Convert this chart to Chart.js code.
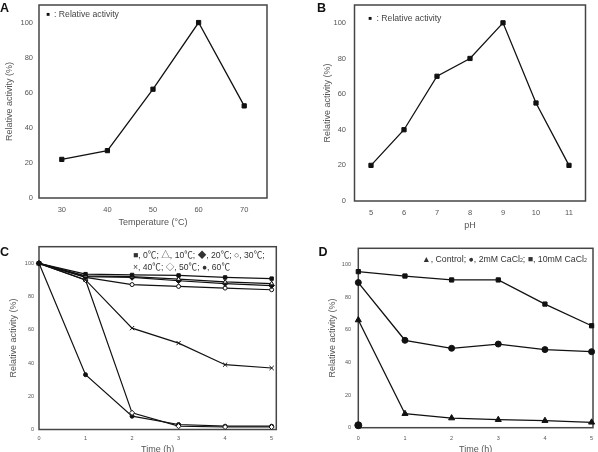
<!DOCTYPE html>
<html><head><meta charset="utf-8">
<script src="https://cdn.jsdelivr.net/npm/chart.js@4.4.0/dist/chart.umd.min.js"></script>
<style>
html,body{margin:0;padding:0;background:#fff;}
#wrap{position:relative;width:598px;height:452px;overflow:hidden;background:#fff;}
canvas{position:absolute;left:0;top:0;}
.t{position:absolute;white-space:nowrap;font-family:"Liberation Sans",Arial,"Noto Sans CJK SC",sans-serif;color:#444;line-height:12px;}
.p{font-weight:bold;font-size:12.5px;color:#111;line-height:14px;}
.cj{font-family:"Liberation Sans","Noto Sans CJK SC",sans-serif;color:#333;}
</style></head><body>
<div id="wrap">
<canvas id="cA" width="598" height="452"></canvas>
<canvas id="cB" width="598" height="452"></canvas>
<canvas id="cC" width="598" height="452"></canvas>
<canvas id="cD" width="598" height="452"></canvas>
<div class="t p" style="left:0px;top:0.5px">A</div>
<div class="t p" style="left:317px;top:0.5px">B</div>
<div class="t p" style="left:0px;top:244.5px">C</div>
<div class="t p" style="left:318.5px;top:244.5px">D</div>
<div class="t" style="left:46.5px;top:7.5px;font-size:6px;color:#111">■</div>
<div class="t fit" data-w="65" style="left:54px;top:7.5px;font-size:9px">: Relative activity</div>
<div class="t" style="left:368.5px;top:11.5px;font-size:6px;color:#111">■</div>
<div class="t fit" data-w="65" style="left:376.5px;top:11.5px;font-size:9px">: Relative activity</div>
<div class="t cj fit" data-w="132" style="left:133px;top:248.5px;font-size:9px">■, 0℃; △, 10℃; ◆, 20℃; ○, 30℃;</div>
<div class="t cj fit" data-w="97" style="left:133px;top:260.5px;font-size:9px">×, 40℃; ◇, 50℃; ●, 60℃</div>
<div class="t fit" data-w="165" style="left:422px;top:252.5px;font-size:9px;color:#333">▲, Control; ●, 2mM CaCl<span style="font-size:60%">2</span>; ■, 10mM CaCl<span style="font-size:60%">2</span></div>
</div>
<script>
// ---- data ----
const tempLabels = ['30', '40', '50', '60', '70'];
const tempActivity = [22, 27, 62, 100, 52.5];
const phLabels = ['5', '6', '7', '8', '9', '10', '11'];
const phActivity = [20, 40, 70, 80, 100, 55, 20];
const timeHours = [0, 1, 2, 3, 4, 5];
const stab0C  = [100, 93.5, 93, 92.7, 91.5, 90.8];
const stab10C = [100, 92.5, 92, 90.5, 88.8, 87.8];
const stab20C = [100, 92, 91.5, 89.5, 87.8, 86.6];
const stab30C = [100, 91.5, 87.2, 86.1, 85.1, 84.1];
const stab40C = [100, 90, 61, 52, 39, 37];
const stab50C = [100, 90, 10, 2, 1.5, 1.5];
const stab60C = [100, 33, 8, 3, 2, 2];
const caControl = [66, 8.6, 5.9, 4.9, 4.3, 3.3];
const ca2mM = [89, 53.6, 48.7, 51.3, 47.9, 46.6];
const ca10mM = [95.7, 93, 90.6, 90.6, 75.8, 62.5];
const strayTime = [0];
const strayValue = [1.5];
const yTickValues = [0, 20, 40, 60, 80, 100];
const timeTickValues = [0, 1, 2, 3, 4, 5];

// ---- helpers ----
const FONT = '"Liberation Sans", Arial, sans-serif';
const TICK = '#555';
const TITLE = '#555';
const INK = '#111';

const framePlugin = {
  id: 'frame',
  beforeDatasetsDraw(chart) {
    const {ctx, chartArea: a} = chart;
    ctx.save();
    ctx.strokeStyle = '#454545';
    ctx.lineWidth = 1.5;
    ctx.strokeRect(a.left, a.top, a.right - a.left, a.bottom - a.top);
    ctx.restore();
  }
};

function xy(xs, ys) { return xs.map((x, i) => ({x: x, y: ys[i]})); }

function ds(data, style, r, filled, extra) {
  return Object.assign({
    data: data,
    borderColor: INK,
    borderWidth: 1.3,
    pointStyle: style,
    pointRadius: r,
    pointBorderColor: INK,
    pointBorderWidth: 1,
    pointBackgroundColor: filled ? INK : '#fff',
    tension: 0,
    fill: false,
    clip: false
  }, extra || {});
}

function panel(id, o) {
  const xScale = {
    type: o.xType,
    offset: o.xType === 'category',
    grid: {display: false, drawTicks: false},
    border: {display: false},
    ticks: {color: TICK, font: {family: FONT, size: o.tickSize}, padding: o.xTickPad, maxRotation: 0, autoSkip: false},
    title: {display: true, text: o.xTitle, color: TITLE, font: {family: FONT, size: 9}, padding: {top: 0, bottom: o.xTitlePad}},
    afterFit: (s) => { s.height = o.xH; s.paddingLeft = 0; s.paddingRight = 0; }
  };
  if (o.xType === 'linear') {
    xScale.min = 0; xScale.max = o.xMax;
    xScale.afterBuildTicks = (s) => { s.ticks = timeTickValues.map(v => ({value: v})); };
  }
  return new Chart(document.getElementById(id), {
    type: 'line',
    data: {labels: o.labels, datasets: o.datasets},
    options: {
      responsive: false, animation: false, devicePixelRatio: 1,
      layout: {padding: {left: o.box[0], top: o.box[1], right: 598 - o.box[2], bottom: 452 - o.box[3]}},
      plugins: {legend: {display: false}, tooltip: {enabled: false}},
      scales: {
        x: xScale,
        y: {
          type: 'linear', min: 0, max: 110,
          grid: {display: false, drawTicks: false},
          border: {display: false},
          ticks: {color: TICK, font: {family: FONT, size: o.tickSize}, padding: o.yTickPad},
          title: {display: true, text: 'Relative activity (%)', color: TITLE, font: {family: FONT, size: 9}, padding: {top: o.yTitlePad, bottom: 0}},
          afterBuildTicks: (s) => { s.ticks = yTickValues.map(v => ({value: v})); },
          afterFit: (s) => { s.width = o.yW; s.paddingTop = 0; s.paddingBottom = 0; }
        }
      }
    },
    plugins: [framePlugin]
  });
}

panel('cA', {
  xType: 'category', labels: tempLabels,
  datasets: [ds(tempActivity, 'rect', 3, true)],
  box: [0, 2, 267, 228], yW: 39, xH: 30,
  tickSize: 7.5, xTickPad: 7.5, yTickPad: 6, yTitlePad: 4.6, xTitlePad: 0,
  xTitle: 'Temperature (°C)'
});

panel('cB', {
  xType: 'category', labels: phLabels,
  datasets: [ds(phActivity, 'rect', 3, true)],
  box: [318, 3.5, 585.5, 231], yW: 36.5, xH: 30,
  tickSize: 7.5, xTickPad: 7.5, yTickPad: 8.5, yTitlePad: 4.6, xTitlePad: 0,
  xTitle: 'pH'
});

panel('cC', {
  xType: 'linear', xMax: 5.1,
  datasets: [
    ds(xy(timeHours, stab0C), 'rect', 2.4, true, {borderWidth: 1.2}),
    ds(xy(timeHours, stab10C), 'triangle', 2.5, false, {borderWidth: 1.2}),
    ds(xy(timeHours, stab20C), 'rectRot', 2.8, true, {borderWidth: 1.2}),
    ds(xy(timeHours, stab30C), 'circle', 2, false, {borderWidth: 1.2}),
    ds(xy(timeHours, stab40C), 'crossRot', 3, true, {borderWidth: 1.2}),
    ds(xy(timeHours, stab50C), 'rectRot', 2.6, false, {borderWidth: 1.2}),
    ds(xy(timeHours, stab60C), 'circle', 2, true, {borderWidth: 1.2})
  ],
  box: [0, 246.7, 276.3, 452], yW: 39, xH: 22.5,
  tickSize: 5.5, xTickPad: 5.9, yTickPad: 5, yTitlePad: 8.6, xTitlePad: -2.9,
  xTitle: 'Time (h)'
});

panel('cD', {
  xType: 'linear', xMax: 5.03,
  datasets: [
    ds(xy(timeHours, ca10mM), 'rect', 3, true),
    ds(xy(timeHours, ca2mM), 'circle', 3, true),
    ds(xy(timeHours, caControl), 'triangle', 3.5, true),
    ds(xy(strayTime, strayValue), 'circle', 3.5, true, {showLine: false})
  ],
  box: [320, 248.3, 595.5, 452], yW: 38.3, xH: 24.3,
  tickSize: 5.5, xTickPad: 7, yTickPad: 7.3, yTitlePad: 7.6, xTitlePad: -2.9,
  xTitle: 'Time (h)'
});

// fit legend texts to their measured widths
document.querySelectorAll('.fit').forEach(el => {
  const w = parseFloat(el.dataset.w);
  const fs = parseFloat(el.style.fontSize);
  const cur = el.getBoundingClientRect().width;
  if (cur > 0) el.style.fontSize = (fs * w / cur).toFixed(2) + 'px';
});
</script>
</body></html>
